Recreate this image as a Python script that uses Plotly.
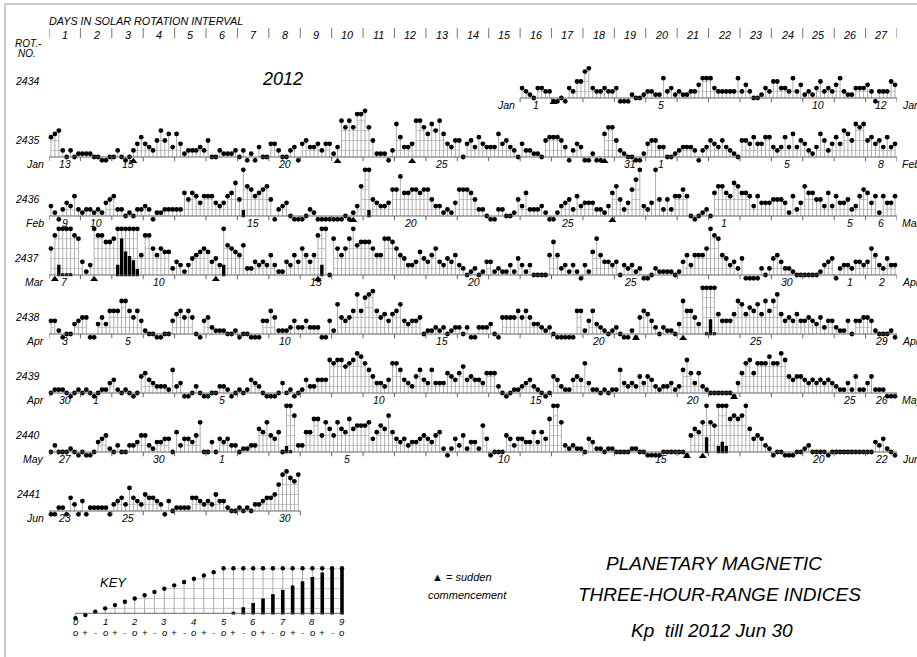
import plotly.graph_objects as go

# ---------------- DATA (Kp in thirds: 0=0o, 1=0+, 2=1-, 3=1o, ... 27=9o) ----------------
rotations = [2434, 2435, 2436, 2437, 2438, 2439, 2440, 2441]
month_left = ["Jan", "Jan", "Feb", "Mar", "Apr", "Apr", "May", "Jun"]
month_right = ["Jan", "Feb", "Mar", "Apr", "Apr", "May", "Jun", ""]
date_days = [
    [16, 20, 25, 27],
    [1, 3, 8, 13, 19, 20, 24, 27],
    [1, 2, 7, 12, 17, 22, 26, 27],
    [1, 4, 9, 14, 19, 24, 26, 27],
    [1, 3, 8, 13, 18, 23, 27],
    [1, 2, 6, 11, 16, 21, 26, 27],
    [1, 4, 6, 10, 15, 20, 25, 27],
    [1, 3, 8],
]
date_text = [
    ["1", "5", "10", "12"],
    ["13", "15", "20", "25", "31", "1", "5", "8"],
    ["9", "10", "15", "20", "25", "1", "5", "6"],
    ["7", "10", "15", "20", "25", "30", "1", "2"],
    ["3", "5", "10", "15", "20", "25", "29"],
    ["30", "1", "5", "10", "15", "20", "25", "26"],
    ["27", "30", "1", "5", "10", "15", "20", "22"],
    ["23", "25", "30"],
]

kp_2434 = [None] * 15 + [
    [4, 3, 2, 1, 4, 4, 3, 3], [0, 0, 1, 0, 4, 3, 6, 6], [9, 10, 4, 3, 3, 4, 3, 3],
    [4, 0, 0, 0, 2, 1, 1, 2], [3, 3, 2, 2, 7, 3, 4, 2], [3, 2, 2, 3, 3, 5, 7, 7],
    [7, 4, 3, 3, 3, 3, 3, 7], [3, 5, 3, 1, 1, 2, 4, 3], [6, 6, 4, 4, 3, 7, 3, 5],
    [2, 3, 2, 4, 6, 3, 4, 3], [5, 7, 3, 2, 2, 4, 4, 4], [5, 3, 0, 3, 3, 3, 6, 5],
]
kp_2435 = [
    [7, 8, 9, 3, 1, 3, 1, 2], [2, 2, 2, 1, 1, 0, 0, 1], [1, 3, 1, 0, 1, 3, 5, 7],
    [5, 4, 3, 6, 9, 6, 8, 4], [8, 5, 2, 3, 3, 3, 4, 3], [6, 1, 1, 3, 2, 2, 2, 3],
    [1, 3, 0, 2, 0, 4, 1, 1], [5, 5, 3, 1, 1, 3, 4, 0], [5, 6, 4, 4, 5, 3, 5, 5],
    [2, 4, 12, 10, 12, 10, 14, 14], [15, 10, 6, 2, 2, 2, 0, 3], [11, 7, 4, 4, 5, 12, 12, 10],
    [8, 11, 9, 12, 8, 5, 4, 6], [6, 1, 5, 6, 4, 7, 5, 4], [4, 4, 8, 5, 6, 4, 3, 1],
    [5, 3, 3, 2, 2, 1, 6, 7], [7, 7, 6, 4, 0, 3, 5, 4], [0, 0, 2, 0, 0, 8, 10, 10],
    [6, 3, 2, 1, 1, 0, 0, 2], [5, 6, 6, 4, 4, 1, 1, 2], [3, 4, 4, 4, 3, 0, 3, 4],
    [6, 5, 4, 6, 4, 3, 2, 1], [6, 6, 5, 7, 5, 5, 7, 7], [4, 3, 4, 7, 4, 8, 4, 6],
    [5, 3, 2, 4, 8, 6, 3, 5], [7, 5, 9, 8, 6, 11, 10, 11], [6, 7, 5, 6, 4, 7, 4, 5],
]
kp_2436 = [
    [4, 2, 0, 3, 5, 4, 7, 3], [2, 3, 3, 2, 3, 2, 5, 6], [7, 3, 3, 1, 2, 1, 3, 3],
    [4, 3, 0, 2, 2, 3, 3, 3], [3, 3, 8, 6, 8, 7, 5, 7], [7, 7, 5, 4, 5, 7, 8, 11],
    [6, 17, 10, 9, 7, 8, 9, 10], [6, 0, 3, 4, 5, 1, 0, 0], [0, 1, 3, 2, 0, 0, 0, 0],
    [0, 0, 0, 1, 0, 2, 4, 10], [15, 17, 6, 5, 4, 4, 5, 9], [9, 13, 8, 8, 9, 9, 8, 9],
    [9, 6, 4, 4, 2, 3, 2, 5], [9, 9, 9, 8, 6, 3, 3, 1], [0, 0, 3, 3, 1, 1, 2, 6],
    [4, 8, 3, 3, 3, 4, 2, 0], [0, 2, 4, 5, 6, 3, 7, 4], [5, 5, 5, 3, 3, 2, 4, 8],
    [10, 6, 3, 5, 9, 12, 15, 4], [3, 5, 15, 6, 3, 6, 3, 7], [7, 9, 7, 1, 0, 1, 2, 3],
    [1, 8, 10, 10, 8, 7, 11, 10], [8, 8, 7, 4, 7, 5, 5, 5], [6, 6, 6, 5, 2, 7, 3, 5],
    [10, 8, 8, 6, 6, 4, 8, 4], [7, 5, 5, 6, 3, 4, 7, 9], [8, 5, 7, 2, 7, 5, 5, 7],
]
kp_2437 = [
    [9, 13, 18, 16, 16, 16, 13, 12], [5, 2, 4, 15, 13, 13, 11, 11], [12, 18, 24, 21, 20, 19, 17, 7],
    [13, 13, 9, 7, 9, 8, 8, 3], [5, 4, 2, 4, 6, 7, 8, 9], [8, 5, 6, 4, 18, 10, 9, 8],
    [7, 10, 3, 3, 5, 4, 5, 4], [7, 4, 2, 2, 5, 4, 7, 5], [9, 7, 5, 7, 13, 18, 15, 1],
    [12, 9, 7, 9, 12, 15, 10, 11], [11, 11, 9, 7, 7, 12, 12, 11], [9, 7, 6, 4, 4, 5, 8, 6],
    [5, 7, 9, 5, 4, 6, 5, 7], [4, 3, 1, 2, 3, 1, 2, 5], [5, 2, 3, 2, 2, 4, 2, 6],
    [4, 2, 4, 1, 1, 1, 1, 7], [11, 7, 3, 4, 2, 4, 2, 0], [4, 2, 8, 12, 7, 5, 5, 4],
    [5, 1, 4, 3, 4, 2, 3, 0], [0, 1, 3, 2, 2, 2, 2, 1], [2, 5, 7, 4, 7, 7, 7, 9],
    [15, 13, 12, 7, 6, 4, 5, 3], [6, 0, 0, 0, 0, 3, 1, 3], [6, 7, 5, 3, 3, 2, 1, 1],
    [1, 1, 1, 1, 2, 4, 5, 6], [0, 3, 4, 4, 3, 5, 5, 4], [5, 9, 7, 4, 3, 6, 4, 4],
]
kp_2438 = [
    [5, 5, 2, 0, 1, 1, 4, 5], [6, 6, 0, 0, 4, 6, 4, 8], [8, 8, 11, 11, 8, 6, 8, 5],
    [2, 1, 1, 0, 0, 1, 1, 5], [7, 8, 6, 8, 6, 1, 0, 5], [6, 3, 2, 2, 2, 1, 1, 2],
    [0, 1, 1, 0, 0, 0, 5, 5], [8, 6, 2, 2, 2, 3, 5, 3], [3, 5, 3, 3, 3, 0, 0, 5],
    [2, 10, 6, 5, 6, 8, 13, 8], [12, 13, 14, 8, 6, 7, 5, 7], [8, 10, 5, 4, 5, 5, 6, 1],
    [2, 2, 3, 2, 3, 1, 2, 3], [3, 1, 3, 0, 0, 3, 3, 3], [4, 1, 0, 6, 6, 6, 6, 8],
    [6, 8, 6, 4, 4, 3, 2, 3], [1, 0, 0, 0, 0, 0, 8, 8], [2, 5, 8, 4, 3, 2, 1, 2],
    [3, 1, 0, 0, 2, 0, 6, 8], [7, 5, 3, 1, 3, 2, 2, 1], [4, 11, 8, 8, 6, 4, 15, 16],
    [19, 16, 7, 5, 5, 5, 7, 11], [10, 7, 9, 8, 10, 7, 11, 8], [11, 13, 7, 5, 6, 5, 7, 5],
    [5, 6, 5, 4, 6, 3, 5, 5], [3, 2, 2, 5, 1, 5, 5, 6], [6, 5, 2, 1, 1, 1, 2, 0],
]
kp_2439 = [
    [1, 2, 2, 2, 1, 0, 1, 2], [1, 2, 1, 0, 1, 2, 2, 4], [5, 2, 1, 2, 1, 0, 1, 6],
    [7, 5, 4, 3, 3, 3, 2, 8], [3, 4, 0, 0, 1, 3, 1, 0], [0, 1, 1, 3, 3, 2, 0, 1],
    [2, 1, 2, 5, 4, 3, 1, 0], [0, 0, 1, 4, 1, 2, 0, 1], [2, 5, 3, 3, 5, 5, 5, 11],
    [10, 11, 11, 9, 10, 11, 13, 12], [10, 8, 6, 4, 4, 3, 5, 10], [10, 8, 5, 4, 3, 6, 8, 5],
    [4, 8, 4, 4, 4, 7, 6, 5], [7, 9, 5, 6, 5, 5, 4, 7], [7, 7, 3, 1, 0, 1, 2, 2],
    [3, 4, 5, 3, 2, 1, 0, 1], [6, 5, 3, 2, 2, 5, 6, 5], [10, 4, 2, 2, 1, 2, 1, 2],
    [2, 8, 4, 3, 4, 3, 6, 4], [6, 5, 3, 2, 3, 3, 4, 2], [3, 8, 11, 7, 4, 7, 3, 2],
    [1, 1, 1, 1, 1, 1, 0, 4], [7, 10, 11, 7, 10, 10, 10, 12], [10, 10, 13, 11, 6, 5, 6, 6],
    [5, 4, 5, 4, 5, 4, 5, 4], [3, 2, 2, 4, 2, 6, 2, 2], [4, 6, 2, 2, 2, 0, 0, 0],
]
kp_2440 = [
    [1, 3, 1, 1, 1, 2, 1, 0], [1, 0, 0, 1, 4, 5, 6, 2], [1, 3, 1, 1, 3, 3, 4, 6],
    [6, 3, 2, 4, 4, 5, 5, 1], [7, 3, 5, 5, 4, 6, 10, 1], [1, 4, 1, 5, 4, 5, 3, 3],
    [1, 2, 2, 3, 3, 8, 7, 10], [6, 5, 7, 1, 17, 16, 12, 3], [3, 7, 7, 11, 11, 6, 10, 8],
    [6, 10, 8, 7, 11, 8, 9, 9], [9, 10, 5, 7, 9, 8, 12, 7], [5, 4, 5, 3, 4, 4, 5, 6],
    [5, 4, 6, 7, 2, 0, 2, 5], [3, 6, 2, 4, 4, 2, 9, 5], [0, 1, 1, 1, 6, 5, 3, 5],
    [5, 4, 4, 7, 4, 7, 5, 11], [15, 15, 10, 3, 2, 3, 2, 2], [1, 5, 4, 2, 2, 1, 2, 2],
    [1, 1, 1, 1, 2, 2, 1, 1], [0, 0, 0, 0, 1, 1, 1, 1], [1, 1, 0, 6, 8, 7, 10, 19],
    [10, 9, 17, 18, 17, 11, 12, 11], [12, 15, 8, 5, 6, 5, 3, 2], [0, 1, 1, 0, 0, 0, 1, 1],
    [2, 3, 1, 1, 1, 1, 0, 1], [1, 1, 1, 1, 1, 1, 1, 1], [1, 1, 4, 3, 5, 2, 1, 0],
]
kp_2441 = [
    [0, 0, 2, 2, 0, 5, 3, 0], [4, 0, 2, 2, 2, 2, 2, 0], [3, 4, 5, 3, 8, 5, 4, 3],
    [6, 5, 5, 4, 3, 0, 4, 1], [2, 2, 2, 2, 5, 5, 4, 3], [4, 3, 6, 4, 4, 2, 1, 1],
    [2, 1, 2, 1, 3, 3, 4, 5], [5, 6, 9, 12, 13, 11, 10, 12],
] + [None] * 19

kp_rows = [kp_2434, kp_2435, kp_2436, kp_2437, kp_2438, kp_2439, kp_2440, kp_2441]

# sudden commencements: rotation, day in rotation, 3-hour interval (0-7)
sc_rot = [2434, 2435, 2435, 2435, 2435, 2436, 2436, 2437, 2437, 2437, 2437, 2438, 2438, 2439, 2440, 2440]
sc_day = [17, 3, 10, 12, 18, 10, 18, 1, 2, 6, 9, 19, 21, 22, 21, 21]
sc_int = [0, 5, 1, 4, 5, 5, 7, 1, 3, 2, 4, 5, 1, 6, 2, 6]

key_levels = list(range(28))
key_digits = [str(d) for d in range(10)]
key_signs = ["o", "+", "-"]

# ---------------- GEOMETRY / STYLE ----------------
W, H = 917, 657
X0_PX, X1_PX = 49, 897
PX_PER_INT = (X1_PX - X0_PX) / 216
ROW0_PX, ROW_GAP_PX, STEP_PX = 98, 59, 3.3
BASE = 1.0
LO, HI = -3.0, 17.0
FONT = "Liberation Sans, Arial, Helvetica, sans-serif"
STEM_C = "#939393"
MESH_C = "#b0b0b0"
BASE_C = "#555555"


def fpx(px):  # pixel from top -> paper fraction
    return (H - px) / H


def xpx(px):  # pixel from left -> paper fraction
    return px / W


def flat(days):
    out = []
    for d in days:
        out += [None] * 8 if d is None else list(d)
    return out


def build(vals, xs, xa, ya, base, cap, bar0, bar_slope, bar_bot, dot_size=4.8, bar_w=3.4):
    traces = []
    sx, sy, dx, dy, bx, by, mx, my = [], [], [], [], [], [], [], []
    lev = [None if v is None else (v if v < 15 else cap) for v in vals]
    for x, v, l in zip(xs, vals, lev):
        if v is None:
            continue
        sx += [x, x, None]
        sy += [base, l, None]
        dx.append(x)
        dy.append(l)
        if v >= 16:
            bx += [x, x, None]
            by += [bar_bot, min(bar0 + (v - 16) * bar_slope, cap), None]
    for L in (3, 6, 9, 12, 15):
        for k in range(len(vals) - 1):
            a, b = lev[k], lev[k + 1]
            if a is not None and b is not None and a >= L and b >= L:
                mx += [xs[k], xs[k + 1], None]
                my += [L, L, None]
    common = dict(xaxis=xa, yaxis=ya, hoverinfo="skip", showlegend=False, cliponaxis=False)
    traces.append(go.Scatter(x=mx, y=my, mode="lines", line=dict(color=MESH_C, width=0.7), **common))
    traces.append(go.Scatter(x=sx, y=sy, mode="lines", line=dict(color=STEM_C, width=0.75), **common))
    if bx:
        traces.append(go.Scatter(x=bx, y=by, mode="lines", line=dict(color="black", width=bar_w), **common))
    traces.append(go.Scatter(x=dx, y=dy, mode="markers", marker=dict(color="black", size=dot_size), **common))
    return traces


fig = go.Figure()
layout = dict(
    width=W, height=H, margin=dict(l=0, r=0, t=0, b=0),
    paper_bgcolor="white", plot_bgcolor="rgba(0,0,0,0)",
    font=dict(family=FONT, style="italic", color="black"),
    xaxis=dict(domain=[X0_PX / W, X1_PX / W], range=[0, 216], visible=False, anchor="y"),
)
annotations, shapes = [], []


def txt(x, y, s, size, xref="paper", yref="paper", xanchor="center", yanchor="middle"):
    annotations.append(dict(x=x, y=y, xref=xref, yref=yref, text=s, showarrow=False,
                            xanchor=xanchor, yanchor=yanchor,
                            font=dict(family=FONT, size=size, style="italic", color="black")))


for r, (rot, days) in enumerate(zip(rotations, kp_rows)):
    ya = "y" if r == 0 else f"y{r + 1}"
    yname = "yaxis" if r == 0 else f"yaxis{r + 1}"
    B = ROW0_PX + r * ROW_GAP_PX
    top_px = B - (HI - BASE) * STEP_PX
    bot_px = B + (BASE - LO) * STEP_PX
    layout[yname] = dict(domain=[fpx(bot_px), fpx(top_px)], range=[LO, HI], visible=False, anchor="x")
    vals = flat(days)
    xs = [k + 0.5 for k in range(len(vals))]
    for t in build(vals, xs, "x", ya, BASE, 15, 1.5, 1.32, 0.6):
        fig.add_trace(t)
    valid_days = [i for i, d in enumerate(days) if d is not None]
    d0, d1 = valid_days[0], valid_days[-1] + 1
    # baseline and day ticks
    tx, ty = [8 * d0, 8 * d1, None], [BASE, BASE, None]
    for d in range(d0, d1 + 1):
        tx += [8 * d, 8 * d, None]
        ty += [BASE, BASE - 1.3, None]
    fig.add_trace(go.Scatter(x=tx, y=ty, mode="lines", line=dict(color=BASE_C, width=0.9),
                             xaxis="x", yaxis=ya, hoverinfo="skip", showlegend=False))
    # sudden commencements
    scx = [(d - 1) * 8 + i + 0.5 for rr, d, i in zip(sc_rot, sc_day, sc_int) if rr == rot]
    if scx:
        fig.add_trace(go.Scatter(x=scx, y=[-0.3] * len(scx), mode="markers",
                                 marker=dict(symbol="triangle-up", color="black", size=7),
                                 xaxis="x", yaxis=ya, hoverinfo="skip", showlegend=False, cliponaxis=False))
    # labels
    lab_y = fpx(B + 7)
    txt(xpx(42), fpx(B - 17), str(rot), 10.5, xanchor="right")
    txt(xpx(X0_PX + 8 * d0 * PX_PER_INT - 3), lab_y, month_left[r], 10.5, xanchor="right")
    if month_right[r]:
        txt(xpx(X0_PX + 8 * d1 * PX_PER_INT + 3), lab_y, month_right[r], 10.5, xanchor="left")
    for dd, s in zip(date_days[r], date_text[r]):
        txt(8 * (dd - 1) + 4, lab_y, s, 10.5, xref="x")

# ---------------- KEY ----------------
KB_PX, KSTEP, KBASE = 613.3, 3.29, 1.5
KX0, KDX = 75.5, 9.87
layout["xaxis2"] = dict(domain=[(KX0 - KDX) / W, (KX0 + 28 * KDX) / W], range=[-1, 28],
                        visible=False, anchor="y9")
layout["yaxis9"] = dict(domain=[fpx(KB_PX + (KBASE - LO) * KSTEP), fpx(KB_PX - (HI - KBASE) * KSTEP)],
                        range=[LO, HI], visible=False, anchor="x2")
for t in build(key_levels, key_levels, "x2", "y9", KBASE, 15.2, 2.0, 1.32, 1.1, dot_size=4.4, bar_w=3.6):
    fig.add_trace(t)
fig.add_trace(go.Scatter(x=[0, 27], y=[KBASE, KBASE], mode="lines", line=dict(color=BASE_C, width=0.9),
                         xaxis="x2", yaxis="y9", hoverinfo="skip", showlegend=False))
for j, dg in enumerate(key_digits):
    txt(3 * j, fpx(621.5), dg, 9.5, xref="x2")
for i in key_levels:
    txt(i, fpx(632.5), key_signs[i % 3], 9.5, xref="x2")
txt(xpx(113), fpx(582), "KEY", 13)

# ---------------- HEADER / TEXT ----------------
txt(xpx(47), fpx(21), "DAYS IN SOLAR ROTATION INTERVAL", 10.8, xanchor="left")
for d in range(27):
    txt(8 * d + 4, fpx(35), str(d + 1), 10.8, xref="x")
for d in range(28):
    shapes.append(dict(type="line", xref="x", yref="paper", x0=8 * d, x1=8 * d,
                       y0=fpx(28), y1=fpx(38), line=dict(color="#666", width=0.9)))
txt(xpx(44), fpx(43), "ROT.-", 10, xanchor="right")
txt(xpx(38), fpx(53), "NO.", 10, xanchor="right")
txt(xpx(282), fpx(79), "2012", 18)
txt(xpx(462), fpx(577), "▲ = sudden", 11)
txt(xpx(467), fpx(595), "commencement", 11)
txt(xpx(714), fpx(563), "PLANETARY MAGNETIC", 19)
txt(xpx(719), fpx(594), "THREE-HOUR-RANGE INDICES", 19)
txt(xpx(712), fpx(630), "Kp  till 2012 Jun 30", 19)

shapes.append(dict(type="line", xref="paper", yref="paper", x0=xpx(5), x1=1, y0=fpx(4), y1=fpx(4),
                   line=dict(color="#999", width=1)))
shapes.append(dict(type="line", xref="paper", yref="paper", x0=xpx(5), x1=xpx(5), y0=0, y1=fpx(4),
                   line=dict(color="#999", width=1)))

layout["annotations"] = annotations
layout["shapes"] = shapes
fig.update_layout(**layout)
fig.write_html("out.html", config={"displayModeBar": False},
               post_script="document.body.style.margin='0px';")
